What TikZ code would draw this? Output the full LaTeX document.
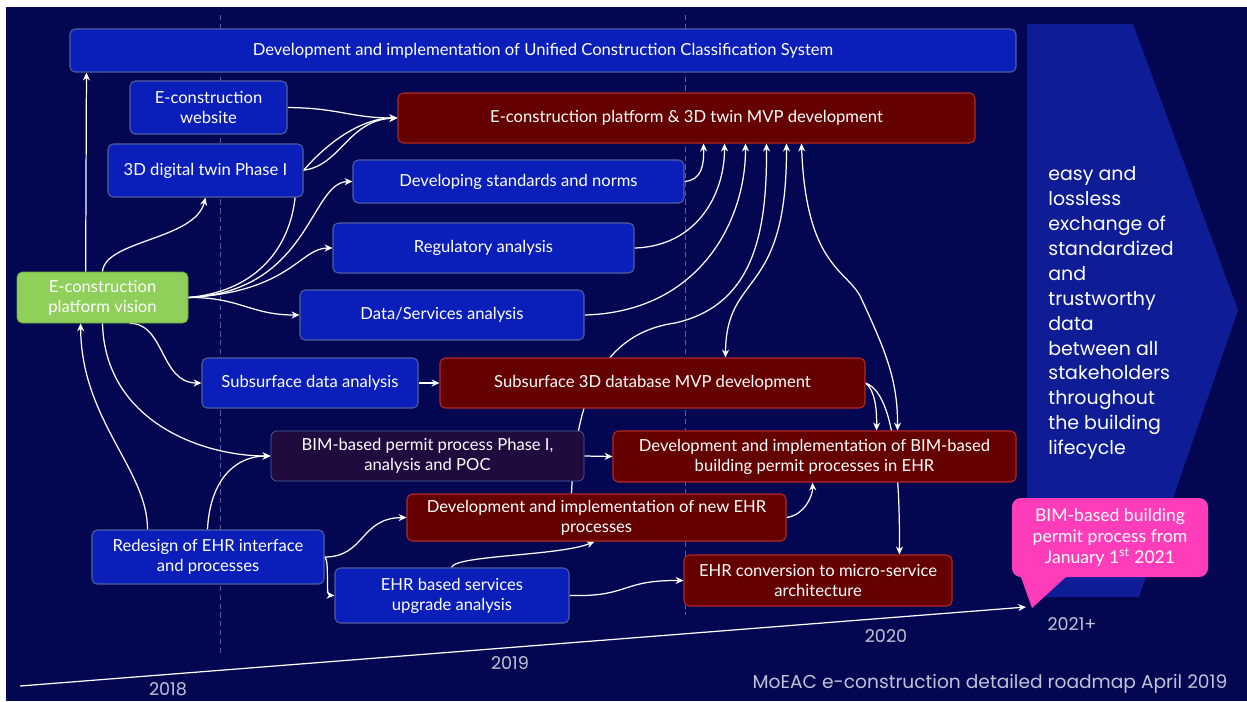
\documentclass[tikz,border=0pt]{standalone}
\usepackage{fontspec}
\setmainfont{Lato}
\newfontfamily\headfont{Poppins}
\usepackage{tikz}
\usetikzlibrary{arrows.meta,calc}
\definecolor{navy}{RGB}{3,7,82}
\definecolor{boxblue}{RGB}{10,30,185}
\definecolor{boxline}{RGB}{80,95,160}
\definecolor{darkred}{RGB}{100,0,0}
\definecolor{redline}{RGB}{180,40,30}
\definecolor{plum}{RGB}{32,10,62}
\definecolor{leaf}{RGB}{142,208,90}
\definecolor{leafline}{RGB}{100,170,60}
\definecolor{chev}{RGB}{14,28,150}
\definecolor{callpink}{RGB}{255,60,185}
\definecolor{yeargrey}{RGB}{190,195,215}
\pgfdeclarelayer{bg}
\pgfdeclarelayer{lines}
\pgfsetlayers{bg,lines,main}

\begin{document}
\begin{tikzpicture}[x=0.02cm, y=-0.02cm,
    every node/.style={text=white, font=\fontsize{9.45}{11.5}\selectfont, inner sep=0pt, align=center},
    bluebox/.style={draw=boxline, fill=boxblue, rounded corners=3pt, line width=0.6pt},
    redbox/.style={draw=redline, fill=darkred, rounded corners=3pt, line width=0.6pt},
    sz/.style 2 args={minimum width=#1*0.02cm, minimum height=#2*0.02cm},
    link/.style={draw=white, line width=0.7pt, -{Stealth[length=4.5pt,width=4pt]}},
    twoway/.style={link, {Stealth[length=4.5pt,width=4pt]}-{Stealth[length=4.5pt,width=4pt]}},
    year/.style={text=yeargrey, font=\headfont\fontsize{10}{12}\selectfont}]
    \begin{pgfonlayer}{bg}
        \fill[white] (0,0) rectangle (1247,701);
        \fill[navy] (6,7) rectangle (1247,701);
        \fill[chev] (1027,24) -- (1133,24) -- (1238,310) -- (1139,597) -- (1027,597) -- cycle;
        \draw[boxline, densely dashed, line width=0.4pt] (220,15) -- (220,655);
        \draw[boxline, densely dashed, line width=0.4pt] (685,15) -- (685,615);
    \end{pgfonlayer}

    \node[bluebox, sz={946}{43}] (uccs) at (543,50.5) {Development and implementation of Unified Construction Classification System};
    \node[bluebox, sz={157}{53}] (site) at (208.5,107.5) {E-construction\\website};
    \node[bluebox, sz={195}{53}] (twin) at (205.5,170.5) {3D digital twin Phase I};
    \node[redbox, sz={577}{50}] (mvp) at (686.5,118) {E-construction platform \& 3D twin MVP development};
    \node[bluebox, sz={331}{43}] (norms) at (518.5,181.5) {Developing standards and norms};
    \node[bluebox, sz={301}{50}] (reg) at (483.5,248) {Regulatory analysis};
    \node[bluebox, sz={284}{50}] (data) at (442,315) {Data/Services analysis};
    \node[draw=leafline, fill=leaf, rounded corners=3pt, sz={171}{51}] (vision) at (102.5,297.5) {E-construction\\platform vision};
    \node[bluebox, sz={216}{50}] (subA) at (310,383) {Subsurface data analysis};
    \node[redbox, sz={425}{50}] (subDB) at (652.5,383) {Subsurface 3D database MVP development};
    \node[draw=boxline, fill=plum, rounded corners=3pt, sz={313}{50}] (bim1) at (427.5,456) {BIM-based permit process Phase I,\\analysis and POC};
    \node[redbox, sz={403}{51}] (bimEHR) at (814.5,456.5) {Development and implementation of BIM-based\\building permit processes in EHR};
    \node[redbox, sz={379}{47}] (newEHR) at (596.5,517.5) {Development and implementation of new EHR\\processes};
    \node[bluebox, sz={232}{54}] (redesign) at (208,557) {Redesign of EHR interface\\and processes};
    \node[bluebox, sz={234}{55}] (svc) at (452,595.5) {EHR based services\\upgrade analysis};
    \node[redbox, sz={268}{51}] (conv) at (818,580.5) {EHR conversion to micro-service\\architecture};

    \node[fill=callpink, rounded corners=5pt, sz={196}{79}, font=\fontsize{10}{11.8}\selectfont] (call) at (1110,537.5) {BIM-based building\\permit process from\\January 1\textsuperscript{st} 2021};
    \fill[callpink] ($(call.south west)+(9,-1)$) -- (1032,608) -- ($(call.south west)+(55,-1)$) -- cycle;

    \node[anchor=north west, align=left, font=\headfont\fontsize{10.8}{14.2}\selectfont] (goal) at (1048,166) {easy and\\lossless\\exchange of\\standardized\\and\\trustworthy\\data\\between all\\stakeholders\\throughout\\the building\\lifecycle};

    \node[year] (y18) at (168,689) {2018};
    \node[year] (y19) at (510,663) {2019};
    \node[year] (y20) at (886,636) {2020};
    \node[year] (y21) at (1072,624) {2021+};
    \node[year, font=\headfont\fontsize{10.6}{12}\selectfont] (foot) at (990,684) {MoEAC e-construction detailed roadmap April 2019};

    \coordinate (t0) at (20,686);
    \coordinate (t1) at (1026,607);

    \begin{pgfonlayer}{lines}
        \draw[link] (t0) -- (t1);
        \draw[link] ($(vision.north west)+(69,0)$) -- ($(uccs.south west)+(17,0)$);
        \draw[link] (vision.north) .. controls (105,240) and (195,240) .. (twin.south);
        \draw[link] (site.east) .. controls (340,108) and (350,118) .. (mvp.west);
        \draw[link] (twin.east) .. controls (325,145) and (360,118) .. (mvp.west);
        \draw[link] (vision.east) .. controls (270,290) and (300,230) .. ($(twin.east)+(-8,0)$) .. controls (340,172) and (345,120) .. (mvp.west);
        \draw[link] (vision.east) .. controls (310,292) and (310,182) .. (norms.west);
        \draw[link] (vision.east) .. controls (290,292) and (300,248) .. (reg.west);
        \draw[link] (vision.east) .. controls (240,297) and (250,315) .. (data.west);
        \draw[link] ($(vision.south west)+(113,0)$) .. controls (165,323) and (160,383) .. (subA.west);
        \draw[link] (vision.south) .. controls (105,420) and (200,456) .. (bim1.west);
        \draw[link] ($(redesign.north west)+(56,0)$) .. controls (148,470) and (81,420) .. ($(vision.south west)+(64,0)$);
        \draw[link] ($(redesign.north west)+(116,0)$) .. controls (210,480) and (235,456) .. (bim1.west);
        \draw[link] (redesign.east) .. controls (365,557) and (360,518) .. (newEHR.west);
        \draw[link] (redesign.east) .. controls (330,560) and (325,595) .. (svc.west);
        \draw[link] ($(svc.north west)+(117,0)$) .. controls (455,555) and (560,556) .. ($(newEHR.south west)+(188,0)$);
        \draw[link] (svc.east) .. controls (630,597) and (620,580) .. (conv.west);
        \draw[link] (subA.east) -- (subDB.west);
        \draw[link] (bim1.east) -- (bimEHR.west);
        \draw[link] (newEHR.east) .. controls (805,515) and (813,495) .. ($(bimEHR.south west)+(200,0)$);
        \draw[link] (norms.east) .. controls (702,180) and (704,165) .. ($(mvp.south west)+(306,0)$);
        \draw[link] (reg.east) .. controls (700,246) and (725,190) .. ($(mvp.south west)+(327,0)$);
        \draw[link] (data.east) .. controls (700,312) and (746,220) .. ($(mvp.south west)+(348,0)$);
        \draw[link] ($(newEHR.north west)+(165,0)$) .. controls (575,420) and (590,335) .. (675,323) .. controls (755,305) and (767,230) .. ($(mvp.south west)+(369,0)$);
        \draw[twoway] ($(mvp.south west)+(389,0)$) .. controls (787,300) and (726,270) .. ($(subDB.north west)+(286,0)$);
        \draw[twoway] ($(mvp.south west)+(404,0)$) .. controls (806,270) and (850,270) .. (862,300) .. controls (885,350) and (898,380) .. ($(bimEHR.north west)+(285,0)$);
        \draw[link] (subDB.east) .. controls (875,390) and (877,410) .. ($(bimEHR.north west)+(264,0)$);
        \draw[link] (subDB.east) .. controls (885,390) and (900,430) .. ($(conv.north west)+(216,0)$);
    \end{pgfonlayer}
\end{tikzpicture}
\end{document}
